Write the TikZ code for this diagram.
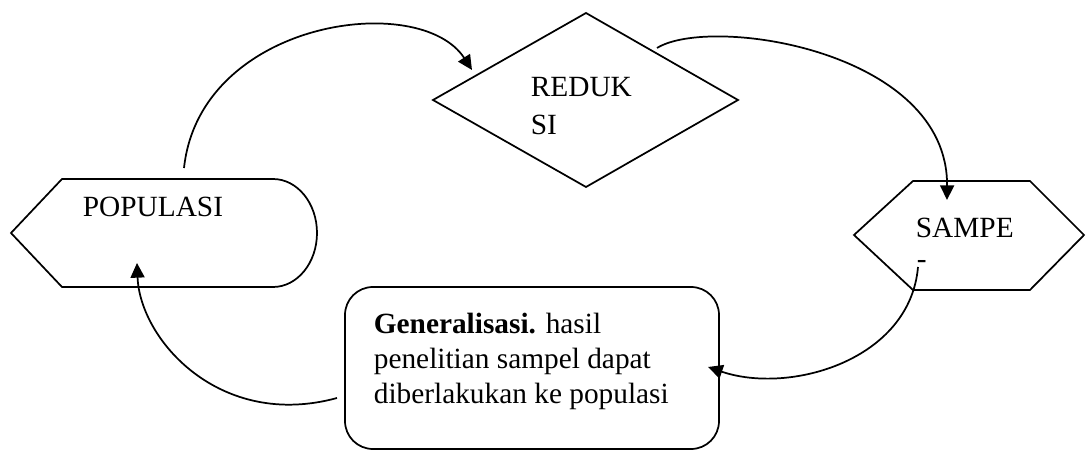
\documentclass[tikz,border=0pt]{standalone}
\usepackage{fontspec}
\setmainfont{Liberation Serif}
\usetikzlibrary{arrows.meta}
\tikzset{every picture/.style={line width=1.3pt}}
\tikzset{
  lbl/.style={anchor=base west,inner sep=0pt,font=\fontsize{22}{28.5}\selectfont},
  flowarrow/.style={-{Triangle[length=11pt,width=10.5pt]}}
}

\begin{document}
\begin{tikzpicture}[x=0.75pt,y=0.75pt,yscale=-1,xscale=1]
\path[use as bounding box] (0,0) rectangle (1086,452);

%Shape: Populasi
\draw   (11,233) -- (62,179) -- (273,179) .. controls (297.3,179) and (317,203.2) .. (317,233) .. controls (317,262.8) and (297.3,287) .. (273,287) -- (62,287) -- cycle ;
%Shape: Diamond
\draw   (586,13) -- (738,100) -- (586,187) -- (433,100) -- cycle ;
%Shape: Hexagon
\draw   (854,235) -- (913,181) -- (1030,181) -- (1084,235) -- (1030,290) -- (913,290) -- cycle ;
%Rounded Rect
\draw   (345,315) .. controls (345,299.5) and (357.5,287) .. (373,287) -- (691,287) .. controls (706.5,287) and (719,299.5) .. (719,315) -- (719,421) .. controls (719,436.5) and (706.5,449) .. (691,449) -- (373,449) .. controls (357.5,449) and (345,436.5) .. (345,421) -- cycle ;

% Text Node
\node[lbl] (populasi) at (82,217) {POPULASI};
% Text Node (base = last line)
\node[lbl,align=left] (reduksi) at (530,135) {REDUK\\SI};
% Text Node
\node[lbl] (sampe) at (915,238) {SAMPE};
% Text Node
\node[lbl] (sampecut) at (916,269) {-};
% Text Node (base = last line)
\node[lbl,align=left,font=\fontsize{22}{26.25}\selectfont] (general) at (373,403) {\textbf{Generalisasi.} hasil\\penelitian sampel dapat\\diberlakukan ke populasi};

%Connector ends
\coordinate (popTop) at (184,168);
\coordinate (redIn) at (472,70);
\coordinate (redOut) at (657,48);
\coordinate (samIn) at (947,200);
\coordinate (samOut) at (918,267);
\coordinate (genIn) at (708,367);
\coordinate (genOut) at (337,398);
\coordinate (popIn) at (137,263);

%Curved Lines
\draw [flowarrow] (popTop) .. controls (200,20) and (420,-10) .. (redIn) ;
\draw [flowarrow] (redOut) .. controls (710,15) and (948,50) .. (samIn) ;
\draw [flowarrow] (samOut) .. controls (910,360) and (790,395) .. (genIn) ;
\draw [flowarrow] (genOut) .. controls (220,430) and (140,340) .. (popIn) ;

\end{tikzpicture}
\end{document}
